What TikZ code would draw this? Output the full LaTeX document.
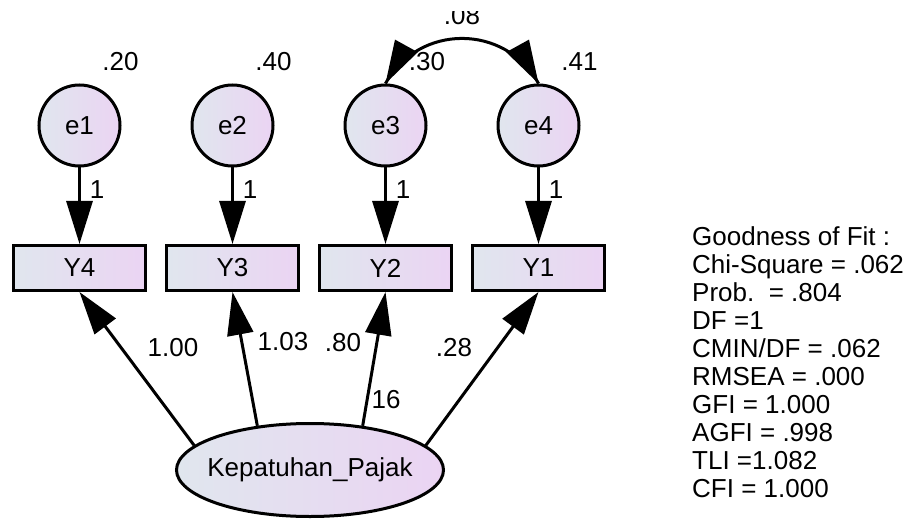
\documentclass[tikz,border=0pt]{standalone}
\usepackage{fontspec}
\setmainfont{Liberation Sans}
\usetikzlibrary{arrows.meta,shapes.geometric}
\definecolor{gL}{RGB}{224,230,238}
\definecolor{gR}{RGB}{235,212,243}
\begin{document}
\begin{tikzpicture}[x=1pt,y=-1pt,
  every node/.style={font=\fontsize{26}{30}\selectfont},
  errc/.style={circle,draw,line width=3pt,minimum size=81pt,inner sep=0pt,left color=gL,right color=gR},
  obsbox/.style={rectangle,draw,line width=3pt,minimum width=132pt,minimum height=45pt,inner sep=0pt,left color=gL,right color=gR},
  latent/.style={ellipse,draw,line width=3pt,minimum width=267pt,minimum height=93pt,inner sep=0pt,left color=gL,right color=gR},
  arr/.style={line width=3pt,-{Triangle[length=43pt,width=26pt]}},
  covline/.style={line width=3pt},
  covhead/.style={fill=black},
  lbl/.style={inner sep=0pt},
  fitline/.style={inner sep=0pt,anchor=base west}
]
\useasboundingbox (0,0) rectangle (909,521);

% error terms
\node[errc] (e1) at (79.5,125.5) {e1};
\node[errc] (e2) at (232.5,125.5) {e2};
\node[errc] (e3) at (385.5,125.5) {e3};
\node[errc] (e4) at (538.5,125.5) {e4};

% observed variables
\node[obsbox] (Y4) at (79.5,268) {Y4};
\node[obsbox] (Y3) at (232.5,268) {Y3};
\node[obsbox] (Y2) at (385.5,268) {Y2};
\node[obsbox] (Y1) at (538.5,268) {Y1};

% latent
\node[latent] (K) at (310,470) {\makebox[0pt]{Kepatuhan\_Pajak}};

% error arrows
\draw[arr] (e1) -- (Y4);
\draw[arr] (e2) -- (Y3);
\draw[arr] (e3) -- (Y2);
\draw[arr] (e4) -- (Y1);

% loadings
\draw[arr] (K.168) -- (Y4.south);
\draw[arr] (K.140) -- (Y3.south);
\draw[arr] (K.40) -- (Y2.south);
\draw[arr] (K.12) -- (Y1.south);

% covariance: arc with a head at each end, along its tangents
\draw[covline] (e3.north) .. controls (418.8,23.4) and (505.2,23.4) .. (e4.north);
\fill[covhead] (e3.north) -- (417.8,52.2) -- (395.0,39.6) -- cycle;
\fill[covhead] (e4.north) -- (506.2,52.2) -- (529.0,39.6) -- cycle;

% variance labels
\node[lbl] (v1) at (120.5,62) {.20};
\node[lbl] (v2) at (273.5,62) {.40};
\node[lbl] (v3) at (427,61.5) {.30};
\node[lbl] (v4) at (579.5,62) {.41};

% fixed weights
\node[lbl] (w1) at (97,190) {1};
\node[lbl] (w2) at (250,190) {1};
\node[lbl] (w3) at (403,190) {1};
\node[lbl] (w4) at (556,190) {1};

% loading labels
\node[lbl] (l1) at (173,348) {1.00};
\node[lbl] (l2) at (283,342) {1.03};
\node[lbl] (l3) at (343,343) {.80};
\node[lbl] (l4) at (454,348) {.28};
\node[lbl] (l5) at (386,400) {16};

% covariance label (top cut off)
\begin{scope}
\clip (0,12) rectangle (909,521);
\node[lbl,anchor=base] (cv) at (462,25) {.08};
\end{scope}

% goodness of fit
\node[fitline] (g0) at (692,245) {Goodness of Fit :};
\node[fitline] (g1) at (692,273) {Chi-Square = .062};
\node[fitline] (g2) at (692,301) {Prob.\ \ = .804};
\node[fitline] (g3) at (692,329) {DF =1};
\node[fitline] (g4) at (692,357) {CMIN/DF = .062};
\node[fitline] (g5) at (692,385) {RMSEA = .000};
\node[fitline] (g6) at (692,413) {GFI = 1.000};
\node[fitline] (g7) at (692,441) {AGFI = .998};
\node[fitline] (g8) at (692,469) {TLI =1.082};
\node[fitline] (g9) at (692,497) {CFI = 1.000};
\end{tikzpicture}
\end{document}
